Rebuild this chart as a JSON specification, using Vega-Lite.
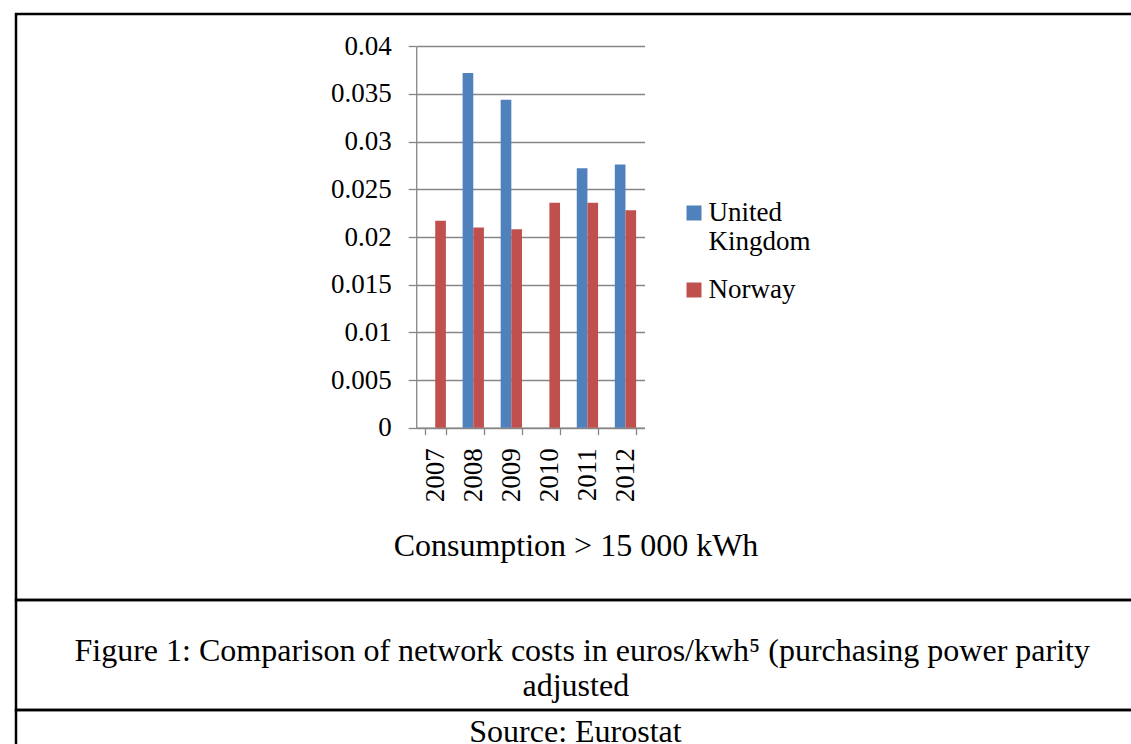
{
  "$schema": "https://vega.github.io/schema/vega-lite/v6.json",
  "background": "white",
  "padding": {"left": 0, "top": 12, "right": 0, "bottom": 0},
  "spacing": 0,
  "bounds": "flush",
  "resolve": {"legend": {"color": "independent"}, "scale": {"color": "independent", "x": "independent", "y": "independent"}},
  "config": {
    "view": {"stroke": "black", "strokeWidth": 2.5},
    "font": "Liberation Serif",
    "concat": {"spacing": 0}
  },
  "vconcat": [
    {
      "width": 1146,
      "height": 586,
      "view": {"stroke": "black", "strokeWidth": 2.5},
      "data": {
        "values": [
          {"year": "2007", "country": "Norway", "value": 0.0217},
          {"year": "2008", "country": "United Kingdom", "value": 0.0372},
          {"year": "2008", "country": "Norway", "value": 0.0210},
          {"year": "2009", "country": "United Kingdom", "value": 0.0344},
          {"year": "2009", "country": "Norway", "value": 0.0208},
          {"year": "2010", "country": "Norway", "value": 0.0236},
          {"year": "2011", "country": "United Kingdom", "value": 0.0272},
          {"year": "2011", "country": "Norway", "value": 0.0236},
          {"year": "2012", "country": "United Kingdom", "value": 0.0276},
          {"year": "2012", "country": "Norway", "value": 0.0228}
        ]
      },
      "mark": {"type": "bar"},
      "encoding": {
        "x": {
          "field": "year",
          "type": "nominal",
          "scale": {"range": [400.2, 628.5], "paddingInner": 0.44, "paddingOuter": 0.22},
          "axis": {
            "orient": "bottom",
            "offset": -172.3,
            "labelAngle": 270,
            "labelAlign": "right",
            "labelBaseline": "middle",
            "tickBand": "extent",
            "tickSize": 7,
            "tickColor": "#868686",
            "tickWidth": 1.3,
            "domainColor": "#868686",
            "domainWidth": 1.3,
            "labelPadding": 13,
            "labelFont": "Liberation Serif",
            "labelFontSize": 27,
            "labelColor": "black",
            "grid": false,
            "title": "Consumption > 15 000 kWh",
            "titleFont": "Liberation Serif",
            "titleFontSize": 32,
            "titleFontWeight": "normal",
            "titleColor": "black",
            "titleX": 559.5,
            "titleY": 128,
            "titleAlign": "center",
            "titleBaseline": "alphabetic"
          }
        },
        "xOffset": {"field": "country", "type": "nominal", "sort": ["United Kingdom", "Norway"]},
        "y": {
          "field": "value",
          "type": "quantitative",
          "scale": {"domain": [0, 0.04], "range": [413.7, 32.3], "nice": false},
          "axis": {
            "offset": -400.2,
            "values": [0, 0.005, 0.01, 0.015, 0.02, 0.025, 0.03, 0.035, 0.04],
            "format": "~g",
            "grid": true,
            "gridColor": "#868686",
            "gridWidth": 1.3,
            "domainColor": "#868686",
            "domainWidth": 1.3,
            "tickColor": "#868686",
            "tickWidth": 1.3,
            "tickSize": 8,
            "labelPadding": 17,
            "labelFont": "Liberation Serif",
            "labelFontSize": 27,
            "labelColor": "black",
            "title": null
          }
        },
        "color": {
          "field": "country",
          "type": "nominal",
          "sort": ["United Kingdom", "Norway"],
          "scale": {"domain": ["United Kingdom", "Norway"], "range": ["#4F81BD", "#C0504D"]},
          "legend": {
            "orient": "none",
            "legendX": 664.5,
            "legendY": 185.5,
            "title": null,
            "padding": 0,
            "symbolType": "square",
            "symbolSize": 225,
            "symbolStrokeWidth": 0,
            "labelFont": "Liberation Serif",
            "labelFontSize": 27,
            "labelColor": "black",
            "labelOffset": 1,
            "labelLimit": 300,
            "rowPadding": 20,
            "labelExpr": "datum.label == 'United Kingdom' ? ['United', 'Kingdom'] : datum.label"
          }
        }
      }
    },
    {
      "width": 1146,
      "height": 110,
      "view": {"stroke": "black", "strokeWidth": 2.5},
      "data": {
        "values": [
          {"line": 1, "caption": "Figure 1: Comparison of network costs in euros/kwh⁵ (purchasing power parity"},
          {"line": 2, "caption": "adjusted"}
        ]
      },
      "mark": {"type": "text", "font": "Liberation Serif", "fontSize": 32, "baseline": "middle", "align": "left", "color": "black"},
      "encoding": {
        "x": {"field": "line", "type": "ordinal", "scale": {"type": "point", "range": [58.5, 506.5], "padding": 0}, "axis": null},
        "y": {"field": "line", "type": "ordinal", "scale": {"type": "point", "range": [50.5, 85.5], "padding": 0}, "axis": null},
        "text": {"field": "caption", "type": "nominal"}
      }
    },
    {
      "width": 1146,
      "height": 44,
      "view": {"stroke": "black", "strokeWidth": 2.5},
      "data": {"values": [{"line": 1, "source": "Source: Eurostat"}]},
      "mark": {"type": "text", "font": "Liberation Serif", "fontSize": 32, "baseline": "middle", "align": "center", "color": "black"},
      "encoding": {
        "x": {"field": "line", "type": "ordinal", "scale": {"type": "point", "range": [559.5, 559.5], "padding": 0}, "axis": null},
        "y": {"field": "line", "type": "ordinal", "scale": {"type": "point", "range": [22, 22], "padding": 0}, "axis": null},
        "text": {"field": "source", "type": "nominal"}
      }
    }
  ]
}
